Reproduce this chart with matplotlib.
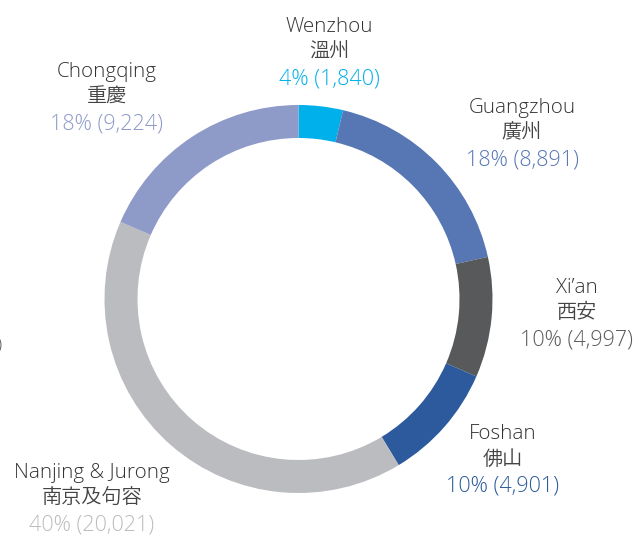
import matplotlib
matplotlib.use("Agg")
import matplotlib.pyplot as plt

cities_en = ["Wenzhou", "Guangzhou", "Xi\u2019an", "Foshan", "Nanjing & Jurong", "Chongqing"]
cities_zh = ["溫州", "廣州", "西安", "佛山", "南京及句容", "重慶"]
values = [1840, 8891, 4997, 4901, 20021, 9224]
colors = ["#00B0EA", "#5676B4", "#58595B", "#2C5A9C", "#BBBCBF", "#8E9AC8"]
pct_colors = ["#00B0EA", "#5676B4", "#58595B", "#2C5A9C", "#BBBCBF", "#8E9AC8"]
# label anchor positions in pixels (x, y of top line center)
label_pos = [(329, 27), (522, 108), (577, 288), (503, 434), (92, 473), (107, 72)]

W, H = 640, 536
fig = plt.figure(figsize=(W / 100, H / 100), dpi=100)
ax = fig.add_axes([0, 0, 1, 1])

cx, cy, R, ring = 298.5, H - 299, 194, 33
ax.pie(values, colors=colors, startangle=90, counterclock=False,
       radius=R, center=(cx, cy), frame=True,
       wedgeprops=dict(width=ring, linewidth=0))
ax.set_xlim(0, W)
ax.set_ylim(0, H)
ax.set_aspect("equal")
ax.axis("off")

total = sum(values)
fam = ["Open Sans", "Noto Sans CJK JP", "DejaVu Sans"]
for en, zh, v, pc, (x, y) in zip(cities_en, cities_zh, values, pct_colors, label_pos):
    pct = round(v / total * 100)
    ax.text(x, H - y, en, ha="center", va="center", fontsize=14.8,
            family=fam, color="#333333", fontweight="light")
    ax.text(x, H - (y + 25), zh, ha="center", va="center", fontsize=14.5,
            family=["Noto Sans CJK JP", "DejaVu Sans"], color="#444444",
            fontweight=350)
    ax.text(x, H - (y + 52), f"{pct}% ({v:,})", ha="center", va="center", fontsize=15.5,
            family=fam, color=pc, fontweight="light")

ax.text(-4, H - 345, ")", ha="left", va="center", fontsize=14, family=fam,
        color="#58595B", fontweight="light")

fig.savefig("out.png", dpi=100)
